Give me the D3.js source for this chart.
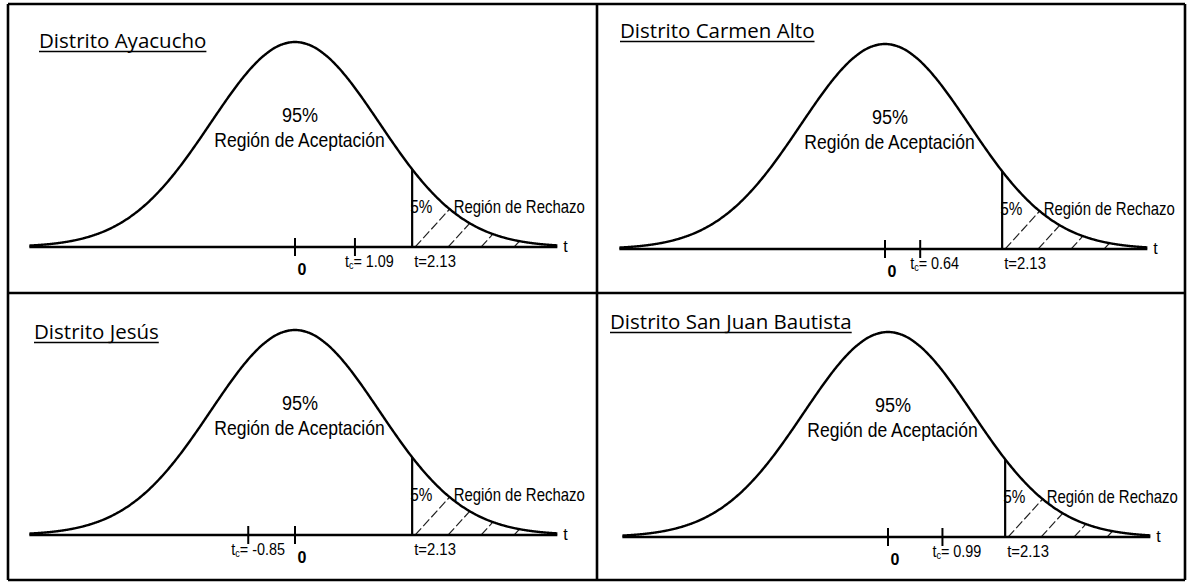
<!DOCTYPE html>
<html>
<head>
<meta charset="utf-8">
<script src="https://cdn.jsdelivr.net/npm/d3@7"></script>
<style>
  body { margin: 0; background: #fff; }
  svg { display: block; }
</style>
</head>
<body>
<svg id="chart" width="1191" height="586"></svg>
<script>
// Test statistic per district, compared against the one-tailed critical value
const districts = ["Distrito Ayacucho", "Distrito Carmen Alto", "Distrito Jesús", "Distrito San Juan Bautista"];
const tCalculated = [1.09, 0.64, -0.85, 0.99];
const tCritical = 2.13;
const acceptancePct = "95%";
const rejectionPct = "5%";
const acceptanceText = "Región de Aceptación";
const rejectionText = "Región de Rechazo";
const axisName = "t";

// Frame grid and per-panel placement
const cols = [8, 597, 1185];
const rows = [4, 293, 580];
const panelLayout = [
  { col: 0, row: 0, cx: 287, axisY: 243, titleX: 31, titleY: 44 },
  { col: 1, row: 0, cx: 288, axisY: 245, titleX: 23, titleY: 34 },
  { col: 0, row: 1, cx: 287, axisY: 242, titleX: 26, titleY: 46 },
  { col: 1, row: 1, cx: 291, axisY: 244, titleX: 13, titleY: 36 }
];

const unit = 55;          // pixels per t unit
const tMin = -4.83, tMax = 4.77;
const spread = 1.53;      // spread of the sketched density, in t units
const peakHeight = 205;

const density = t => Math.exp(-0.5 * (t / spread) * (t / spread));
const fmt = v => v.toFixed(2);   // plain hyphen for negatives

const sans = '"Liberation Sans", Arial, sans-serif';
const titleFont = '"Open Sans", sans-serif';

const svg = d3.select("#chart");
svg.append("rect").attr("width", 1191).attr("height", 586).attr("fill", "#fff");

const defs = svg.append("defs");

// condensed label: regular sans squeezed horizontally around its anchor
function condensed(parent, x, y, size, squeeze, anchor) {
  return parent.append("g")
    .attr("transform", `translate(${x},${y}) scale(${squeeze},1)`)
    .append("text")
    .attr("x", 0).attr("y", 0)
    .attr("text-anchor", anchor || "start")
    .attr("font-family", sans).attr("font-size", size).attr("fill", "#000");
}

districts.forEach((name, i) => {
  const L = panelLayout[i];
  const g = svg.append("g").attr("transform", `translate(${cols[L.col]},${rows[L.row]})`);

  const x = d3.scaleLinear().domain([tMin, tMax]).range([L.cx + tMin * unit, L.cx + tMax * unit]);
  const y = d3.scaleLinear().domain([0, 1]).range([L.axisY, L.axisY - peakHeight]);

  // title, underlined
  const title = g.append("text")
    .attr("x", L.titleX).attr("y", L.titleY)
    .attr("font-family", titleFont).attr("font-size", 20.5).attr("fill", "#000")
    .text(name);
  const tw = title.node().getComputedTextLength();
  g.append("line")
    .attr("x1", L.titleX).attr("x2", L.titleX + tw)
    .attr("y1", L.titleY + 3.5).attr("y2", L.titleY + 3.5)
    .attr("stroke", "#000").attr("stroke-width", 1.5);

  // rejection tail (hatched)
  const tailPts = d3.range(tCritical, tMax + 0.001, 0.02);
  const tailArea = d3.area().x(d => x(d)).y0(y(0)).y1(d => y(density(d)));
  const clipId = "tail" + i;
  defs.append("clipPath").attr("id", clipId).append("path").attr("d", tailArea(tailPts));
  const hatch = g.append("g").attr("clip-path", `url(#${clipId})`);
  const x0 = x(tCritical);
  d3.range(0, 6).forEach(k => {
    const bx = x0 + 3 + k * 33;
    hatch.append("line")
      .attr("x1", bx).attr("y1", y(0))
      .attr("x2", bx + 100).attr("y2", y(0) - 110)
      .attr("stroke", "#222").attr("stroke-width", 1.2)
      .attr("stroke-dasharray", "9 3");
  });

  // density curve
  const pts = d3.range(tMin, tMax + 0.001, 0.02);
  g.append("path")
    .attr("d", d3.line().x(d => x(d)).y(d => y(density(d))).curve(d3.curveBasis)(pts))
    .attr("fill", "none").attr("stroke", "#000").attr("stroke-width", 2.4);

  // horizontal axis
  g.append("line")
    .attr("x1", x(tMin)).attr("x2", x(tMax))
    .attr("y1", y(0)).attr("y2", y(0))
    .attr("stroke", "#000").attr("stroke-width", 2.6);
  g.append("text")
    .attr("x", x(tMax) + 6).attr("y", y(0) + 5)
    .attr("font-family", sans).attr("font-size", 16).attr("fill", "#000")
    .text(axisName);

  // ticks at 0 and at the computed statistic
  [0, tCalculated[i]].forEach(v => {
    g.append("line")
      .attr("x1", x(v)).attr("x2", x(v))
      .attr("y1", y(0) - 9).attr("y2", y(0) + 9)
      .attr("stroke", "#000").attr("stroke-width", 2);
  });

  g.append("text")
    .attr("x", x(0) + 7).attr("y", y(0) + 28)
    .attr("text-anchor", "middle")
    .attr("font-family", sans).attr("font-size", 16).attr("font-weight", "bold")
    .text("0");

  const tc = tCalculated[i];
  const tcLabel = tc < 0
    ? condensed(g, x(0) - 10, y(0) + 19.5, 16, 0.9, "end")
    : condensed(g, x(tc) - 10, y(0) + 19.5, 16, 0.9, "start");
  tcLabel.append("tspan").text("t");
  tcLabel.append("tspan").attr("font-size", 10).attr("dy", 2).text("c");
  tcLabel.append("tspan").attr("dy", -2).text("= " + fmt(tc));

  condensed(g, x(tCritical) + 2, y(0) + 19.5, 16, 0.93)
    .text("t=" + fmt(tCritical));

  // region annotations
  condensed(g, L.cx + 5, y(0) - 125.5, 21, 0.86, "middle").text(acceptancePct);
  condensed(g, L.cx + 4.5, y(0) - 100.5, 21, 0.835, "middle").text(acceptanceText);
  condensed(g, x(tCritical) - 2, y(0) - 34, 18, 0.85).text(rejectionPct);
  condensed(g, x(tCritical) + 41.5, y(0) - 34, 18, 0.83).text(rejectionText);

  // boundary drawn over the "5%" label, as in the printed figure
  g.append("line")
    .attr("x1", x(tCritical)).attr("x2", x(tCritical))
    .attr("y1", y(0)).attr("y2", y(density(tCritical)))
    .attr("stroke", "#000").attr("stroke-width", 2.2);
});

// panel frames
const frame = svg.append("g").attr("stroke", "#000").attr("stroke-width", 2.6).attr("fill", "none");
cols.forEach(cx => frame.append("line").attr("x1", cx).attr("x2", cx).attr("y1", rows[0]).attr("y2", rows[2]));
rows.forEach(ry => frame.append("line").attr("x1", cols[0]).attr("x2", cols[2]).attr("y1", ry).attr("y2", ry));
</script>
</body>
</html>
